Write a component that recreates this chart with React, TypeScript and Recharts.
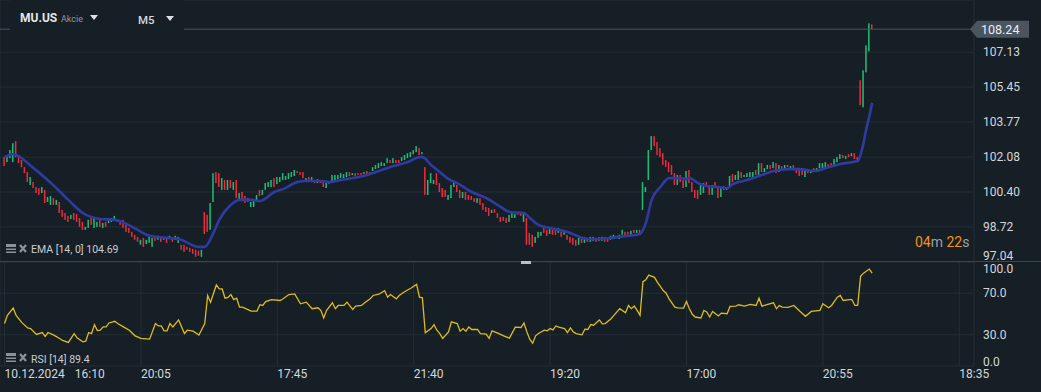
import {
  ComposedChart,
  Bar,
  Line,
  XAxis,
  YAxis,
  CartesianGrid,
  ReferenceLine,
} from "recharts";

const BG = "#171f26";
const GRID = "#242d35";
const SEPARATOR = "#3a454f";
const TEXT = "#d3d7db";
const GREEN = "#1fbe78";
const RED = "#ee2a3c";
const EMA_COLOR = "#2e3ba2";
const RSI_COLOR = "#dcbc22";

// M5 bars, one slot per candle; ticks every 47 candles
const timeTicks = [0, 47, 94, 141, 188, 235, 282, 329];
const timeLabels = ["10.12.2024|16:10", "20:05", "17:45", "21:40", "19:20", "17:00", "20:55", "18:35"];
const priceTicks = [97.04, 98.72, 100.4, 102.08, 103.77, 105.45, 107.13];
const rsiTicks = [0, 30, 70, 100];
const lastPrice = 108.24;
const emaLast = 104.69;
const rsiLast = 89.4;

// [open, close]
const candles: [number, number][] = [
  [102.08, 101.65], [101.84, 102.18], [102.03, 102.42], [101.84, 102.75], [102.85, 102.08],
  [102.18, 101.79], [101.94, 101.6], [101.6, 101.31], [101.36, 100.88], [100.74, 101.12],
  [100.88, 100.59], [100.64, 100.35], [100.59, 100.26], [100.35, 100.64], [100.5, 99.87],
  [99.92, 100.16], [99.78, 100.21], [100.11, 99.78], [99.78, 100.02], [99.92, 99.39],
  [99.54, 99.2], [99.39, 99.06], [99.25, 98.96], [99.1, 99.3], [99.39, 99.06],
  [99.34, 98.96], [99.15, 98.72], [98.96, 98.58], [98.58, 98.72], [98.67, 99.06],
  [99.15, 98.82], [98.67, 99.15], [98.72, 98.96], [99.06, 98.72], [98.67, 98.91],
  [98.96, 98.72], [98.91, 99.06], [98.96, 99.15], [99.06, 99.25], [99.1, 98.96],
  [99.06, 98.82], [99.06, 98.67], [98.82, 98.48], [98.67, 98.43], [98.48, 98.24],
  [98.34, 98.1], [98.24, 98.0],
  // 20:05
  [97.86, 98.1], [98.19, 97.76], [97.9, 98.1], [97.95, 98.24], [97.76, 98.19],
  [98.24, 98.05], [98.1, 98.29], [98.24, 98.0], [98.1, 98.24], [98.24, 97.95],
  [98.14, 98.29], [98.19, 98.0], [98.1, 98.29], [97.95, 98.24], [97.86, 97.62],
  [97.86, 97.52], [97.76, 97.62], [97.71, 97.52], [97.66, 97.42], [97.62, 97.28],
  [97.57, 97.33], [97.28, 97.62], [99.44, 98.38], [99.3, 98.48], [98.58, 99.87],
  [99.92, 101.31], [101.36, 100.83], [101.31, 100.64], [100.5, 101.07], [100.98, 100.5],
  [100.5, 100.98], [100.98, 100.59], [100.5, 100.88], [100.98, 100.11], [100.02, 100.35],
  [100.4, 99.97], [100.21, 99.87], [100.11, 99.92], [99.68, 99.92], [99.68, 100.02],
  [99.97, 100.26], [100.5, 100.21], [100.26, 100.5], [100.5, 100.83], [100.64, 100.88],
  [100.64, 100.98], [101.07, 100.64],
  // 17:45
  [100.78, 101.12], [100.88, 101.12], [100.98, 101.31], [100.98, 101.17], [101.02, 101.31],
  [101.12, 101.36], [101.17, 101.46], [101.41, 101.31], [101.36, 101.22], [101.36, 101.07],
  [100.93, 101.07], [101.12, 100.98], [100.98, 101.12], [100.98, 100.83], [100.83, 101.02],
  [100.98, 100.83], [100.93, 100.64], [100.59, 100.83], [100.88, 100.78], [100.83, 101.22],
  [100.93, 101.22], [101.02, 101.22], [101.07, 101.31], [101.07, 101.26], [101.12, 101.36],
  [101.36, 101.17], [101.22, 101.31], [101.31, 101.17], [101.31, 101.22], [101.31, 101.22],
  [101.26, 101.36], [101.41, 101.26], [101.36, 101.22], [101.41, 101.6], [101.5, 101.7],
  [101.55, 101.79], [101.65, 101.84], [101.65, 101.79], [101.79, 102.03], [101.94, 101.79],
  [101.79, 102.03], [101.94, 101.79], [101.94, 101.79], [101.89, 102.08], [101.94, 102.18],
  [102.03, 102.27], [102.08, 102.32], [102.22, 102.42],
  // 21:40
  [102.32, 102.61], [102.51, 102.18], [102.22, 102.32], [101.6, 100.26], [100.26, 100.98],
  [100.83, 101.31], [100.78, 100.98], [101.31, 100.74], [100.83, 100.4], [100.59, 100.16],
  [100.5, 100.16], [100.02, 100.26], [100.11, 100.74], [100.64, 100.88], [100.74, 100.4],
  [100.5, 100.11], [100.11, 100.4], [100.4, 100.02], [100.26, 100.02], [100.21, 100.02],
  [100.11, 99.92], [99.87, 100.11], [100.11, 99.78], [99.87, 99.54], [99.68, 99.44],
  [99.63, 99.25], [99.39, 99.54], [99.58, 99.39], [99.39, 99.15], [99.2, 98.96],
  [99.2, 99.01], [99.15, 98.91], [98.96, 99.3], [99.15, 99.39], [99.15, 99.34],
  [99.39, 99.3], [99.39, 99.25], [98.96, 99.39], [99.15, 97.86], [98.43, 97.86],
  [98.34, 97.76], [97.95, 98.24], [98.19, 98.48], [98.29, 98.48], [98.67, 98.43],
  [98.58, 98.29], [98.38, 98.62],
  // 19:20
  [98.58, 98.34], [98.58, 98.34], [98.43, 98.67], [98.48, 98.24], [98.34, 98.48],
  [98.34, 98.1], [98.24, 97.95], [98.19, 97.86], [98.1, 97.81], [97.86, 98.19],
  [98.19, 97.95], [97.95, 98.24], [98.19, 98.0], [98.0, 98.24], [98.05, 98.24],
  [98.19, 98.0], [98.05, 98.22], [98.05, 98.24], [98.24, 98.0], [98.19, 98.0],
  [98.1, 98.29], [98.14, 98.34], [98.19, 98.29], [98.14, 98.34], [98.34, 98.58],
  [98.48, 98.24], [98.48, 98.34], [98.34, 98.53], [98.58, 98.43], [98.43, 98.58],
  [98.58, 98.34], [99.54, 100.88], [100.4, 100.64], [100.98, 102.42], [102.42, 103.09],
  [103.09, 102.61], [102.8, 102.18], [102.51, 102.08], [102.27, 101.7], [101.94, 101.6],
  [101.84, 101.36], [101.7, 101.22], [101.31, 100.74], [100.74, 101.22], [101.22, 100.88],
  [100.98, 100.59], [100.64, 101.41], [101.46, 100.83],
  // 17:00
  [100.88, 100.4], [100.5, 100.11], [100.5, 100.06], [100.26, 100.83], [100.35, 100.83],
  [100.88, 100.74], [100.64, 100.26], [100.26, 100.74], [100.88, 100.59], [100.59, 100.11],
  [100.16, 100.64], [100.69, 100.5], [100.5, 100.59], [100.64, 101.17], [101.26, 100.88],
  [100.98, 101.22], [100.98, 101.41], [101.36, 101.07], [101.12, 101.22], [101.12, 101.31],
  [101.12, 101.36], [101.12, 101.36], [101.46, 101.22], [101.22, 101.79], [101.79, 101.36],
  [101.36, 101.55], [101.5, 101.7], [101.7, 101.5], [101.55, 101.84], [101.79, 101.31],
  [101.36, 101.7], [101.65, 101.5], [101.55, 101.7], [101.7, 101.6], [101.5, 101.65],
  [101.7, 101.46], [101.5, 101.31], [101.46, 101.17], [101.46, 101.22], [101.12, 101.46],
  [101.41, 101.31], [101.31, 101.46], [101.55, 101.36], [101.46, 101.55], [101.55, 101.79],
  // 20:55
  [101.55, 101.79], [101.6, 101.84], [101.74, 101.6], [101.79, 101.6], [101.65, 101.99],
  [101.84, 102.08], [101.99, 102.22], [102.18, 102.03], [101.99, 102.13], [102.22, 102.08],
  [102.13, 102.27], [102.27, 101.99], [102.08, 101.94], [105.78, 104.58], [104.48, 106.26],
  [106.16, 107.46], [107.17, 108.52], [108.47, 108.24],
];

// [candle index, EMA(14) value]
const emaPoints: [number, number][] = [
  [0, 102.08], [3, 102.22], [10, 101.55], [16, 100.83], [22, 100.02], [27, 99.39], [33, 99.1],
  [38, 99.06], [44, 98.72], [50, 98.29], [56, 98.19], [60, 98.14], [67, 97.76], [69, 97.76],
  [72, 98.43], [74, 99.06], [78, 99.78], [81, 100.02], [85, 100.02], [88, 99.97], [93, 100.4],
  [96, 100.54], [101, 100.88], [104, 100.93], [109, 100.93], [112, 100.88], [116, 100.98],
  [122, 101.12], [125, 101.22], [129, 101.41], [134, 101.65], [139, 101.84], [143, 102.08],
  [144, 102.08], [147, 101.7], [150, 101.36], [153, 101.02], [156, 100.83], [161, 100.4],
  [166, 100.11], [171, 99.68], [174, 99.44], [179, 99.39], [181, 99.15], [184, 98.82],
  [188, 98.67], [194, 98.48], [201, 98.14], [205, 98.14], [212, 98.24], [219, 98.38],
  [221, 98.91], [223, 100.02], [226, 100.64], [229, 101.07], [233, 101.07], [235, 101.02],
  [236, 101.07], [239, 100.83], [242, 100.69], [246, 100.64], [249, 100.59], [251, 100.78],
  [256, 100.98], [260, 101.17], [265, 101.41], [270, 101.5], [274, 101.5], [279, 101.41],
  [283, 101.55], [288, 101.75], [294, 101.89], [295, 102.2], [296, 102.75], [297, 103.45],
  [298, 104.05], [299, 104.69],
];

// [candle index, RSI(14) value]
const rsiPoints: [number, number][] = [
  [0, 40.8], [1, 48.7], [3, 55.7], [4, 48.7], [6, 41.7], [8, 36.6], [9, 36.0], [11, 30.3],
  [13, 32.2], [14, 28.4], [15, 32.2], [17, 29.7], [19, 26.5], [20, 24.6], [22, 22.7], [24, 31.2],
  [25, 27.1], [27, 23.3], [28, 23.9], [29, 32.2], [30, 31.2], [31, 39.8], [32, 34.1], [33, 34.4],
  [34, 37.6], [35, 37.6], [36, 41.4], [38, 43.0], [39, 40.8], [41, 37.6], [43, 34.4], [45, 29.0],
  [47, 26.5], [50, 25.8], [52, 40.8], [53, 38.5], [54, 38.5], [55, 33.8], [56, 33.8], [57, 40.8],
  [58, 37.6], [60, 44.3], [62, 31.2], [63, 34.4], [65, 33.5], [67, 29.7], [69, 40.8], [70, 67.8],
  [71, 61.4], [73, 77.9], [74, 74.1], [75, 74.1], [76, 65.2], [77, 65.9], [78, 68.7], [79, 63.9],
  [80, 65.2], [81, 56.6], [82, 56.6], [85, 52.8], [87, 52.8], [88, 58.9], [89, 58.2], [90, 62.0],
  [92, 63.9], [95, 63.0], [96, 64.6], [98, 68.7], [100, 69.3], [102, 59.8], [104, 61.4], [106, 55.1],
  [108, 56.0], [109, 53.5], [110, 46.2], [111, 53.5], [113, 60.8], [114, 55.1], [115, 58.2],
  [117, 58.2], [118, 61.4], [120, 54.4], [121, 57.6], [123, 58.2], [124, 60.5], [126, 64.6],
  [127, 67.8], [129, 69.0], [131, 72.5], [132, 66.2], [133, 68.7], [135, 64.6], [136, 67.8],
  [138, 71.6], [140, 74.7], [142, 78.5], [143, 66.2], [144, 65.5], [145, 31.9], [147, 36.0],
  [148, 39.8], [149, 34.4], [150, 31.2], [151, 26.5], [153, 32.8], [154, 42.4], [156, 40.8],
  [157, 33.5], [158, 36.0], [159, 33.5], [160, 37.6], [161, 35.1], [163, 35.1], [164, 31.2],
  [166, 30.6], [167, 26.5], [168, 33.8], [170, 31.6], [172, 29.0], [174, 26.8], [176, 37.3],
  [178, 37.0], [179, 41.4], [180, 32.8], [181, 25.8], [182, 22.0], [183, 29.0], [184, 31.2],
  [186, 34.4], [187, 33.8], [188, 36.0], [189, 34.7], [190, 38.5], [191, 37.3], [193, 36.0],
  [194, 32.2], [195, 36.6], [196, 32.8], [197, 31.2], [199, 30.0], [200, 35.4], [201, 35.1],
  [202, 39.8], [203, 39.2], [205, 44.3], [206, 40.5], [207, 40.8], [209, 45.5], [210, 48.7],
  [212, 55.1], [214, 51.2], [215, 58.2], [216, 55.1], [217, 57.6], [218, 53.5], [219, 48.7],
  [220, 81.1], [221, 83.0], [222, 87.4], [224, 85.2], [225, 80.5], [227, 72.5], [228, 70.0],
  [229, 64.6], [231, 56.6], [232, 55.9], [234, 55.7], [235, 62.0], [236, 55.1], [237, 49.7],
  [238, 47.1], [240, 46.2], [241, 53.5], [242, 51.9], [243, 47.1], [244, 52.5], [246, 48.1],
  [247, 50.9], [249, 50.3], [250, 57.3], [252, 57.6], [253, 58.9], [255, 57.6], [257, 59.2],
  [259, 58.2], [260, 65.2], [261, 57.6], [263, 59.2], [265, 60.8], [266, 55.1], [267, 58.2],
  [268, 56.6], [270, 56.3], [272, 58.2], [274, 52.8], [276, 47.8], [278, 52.5], [281, 53.5],
  [282, 59.8], [284, 56.0], [285, 58.2], [287, 66.2], [288, 67.8], [289, 63.0], [291, 63.9],
  [292, 63.9], [293, 58.2], [294, 58.2], [295, 86.2], [296, 89.3], [298, 93.2], [299, 89.4],
];

const candleData = candles.map(([o, c], i) => ({
  i,
  range: [Math.min(o, c), Math.max(o, c)],
  up: c >= o,
}));
const emaData = emaPoints.map(([i, v]) => ({ i, ema: v }));
const rsiData = rsiPoints.map(([i, v]) => ({ i, rsi: v }));

const X_DOMAIN: [number, number] = [-1.551, 334.08];
const PRICE_DOMAIN: [number, number] = [97.03, 109.644];

const CandleShape = (props: any) => {
  const { x, y, width, height, payload } = props;
  if (x == null || y == null) return null;
  const cx = x + width / 2;
  const top = height < 0 ? y + height : y;
  const h = Math.max(Math.abs(height), 1.5);
  return <rect x={cx - 0.75} y={top} width={1.5} height={h} fill={payload.up ? GREEN : RED} />;
};

const PriceTick = (props: any) => {
  const { x, y, payload } = props;
  const dy = payload.value === priceTicks[0] ? -5.5 : 0;
  return (
    <text x={x + 7} y={y + dy} fill={TEXT} fontSize={12} dominantBaseline="central" fontFamily="Roboto">
      {payload.value.toFixed(2)}
    </text>
  );
};

const RsiTick = (props: any) => {
  const { x, y, payload } = props;
  const dy = payload.value === 100 ? 7 : payload.value === 0 ? -4.5 : 0;
  return (
    <text x={x + 7} y={y + dy} fill={TEXT} fontSize={12} dominantBaseline="central" fontFamily="Roboto">
      {payload.value.toFixed(1)}
    </text>
  );
};

const TimeTick = (props: any) => {
  const { x, y, payload } = props;
  const label = timeLabels[timeTicks.indexOf(payload.value)] ?? "";
  const [a, b] = label.split("|");
  return (
    <text x={x} y={y + 6} fill={TEXT} fontSize={12} dominantBaseline="central" fontFamily="Roboto">
      <tspan>{a}</tspan>
      {b && <tspan dx={10}>{b}</tspan>}
    </text>
  );
};

const PriceTag = (props: any) => {
  const vb = props.viewBox;
  if (!vb) return null;
  const r = vb.x + vb.width;
  const y = vb.y;
  return (
    <g>
      <polygon
        points={`${r - 4},${y} ${r + 3},${y - 8.5} ${r + 55},${y - 8.5} ${r + 55},${y + 8.5} ${r + 3},${y + 8.5}`}
        fill="#4a5560"
      />
      <text x={r + 7} y={y + 0.5} fill="#eceef0" fontSize={12.5} dominantBaseline="central" fontFamily="Roboto">
        {lastPrice.toFixed(2)}
      </text>
    </g>
  );
};

const Triangle = ({ left, top }: { left: number; top: number }) => (
  <svg style={{ position: "absolute", left, top }} width={8} height={5}>
    <polygon points="0,0 8,0 4,5" fill="#dde1e4" />
  </svg>
);

const LegendIcons = ({ top }: { top: number }) => (
  <svg style={{ position: "absolute", left: 5, top }} width={24} height={11}>
    <rect x={1} y={1} width={10} height={3} fill="#8a939b" />
    <rect x={1} y={5.5} width={10} height={1.5} fill="#8a939b" />
    <rect x={1} y={8.5} width={10} height={1.5} fill="#8a939b" />
    <path d="M15 2 L21 9 M21 2 L15 9" stroke="#8a939b" strokeWidth={2.2} />
  </svg>
);

export default function App() {
  return (
    <div
      style={{
        position: "absolute",
        left: 0,
        top: 0,
        width: 1041,
        height: 392,
        background: BG,
        fontFamily: "Roboto, 'Noto Sans', sans-serif",
        overflow: "hidden",
      }}
    >
      <div style={{ position: "absolute", left: 0, top: 0 }}>
        <ComposedChart width={1041} height={262} data={candleData} margin={{ top: 0, right: 0, bottom: 0, left: 0 }}>
          <CartesianGrid stroke={GRID} />
          <XAxis
            dataKey="i"
            type="number"
            domain={X_DOMAIN}
            ticks={timeTicks}
            allowDataOverflow
            height={0}
            tick={false}
            axisLine={false}
            tickLine={false}
          />
          <YAxis
            orientation="right"
            width={67}
            domain={PRICE_DOMAIN}
            ticks={priceTicks}
            interval={0}
            allowDataOverflow
            axisLine={false}
            tickLine={false}
            tickSize={0}
            tick={<PriceTick />}
          />
          <ReferenceLine y={lastPrice} stroke="#4b5661" label={(p: any) => <PriceTag {...p} />} />
          <Bar dataKey="range" barSize={2} shape={CandleShape} isAnimationActive={false} />
          <Line
            data={emaData}
            dataKey="ema"
            type="monotone"
            stroke={EMA_COLOR}
            strokeWidth={2.6}
            dot={false}
            activeDot={false}
            isAnimationActive={false}
          />
        </ComposedChart>
      </div>

      <div style={{ position: "absolute", left: 0, top: 262 }}>
        <ComposedChart width={1041} height={130} data={rsiData} margin={{ top: 0, right: 0, bottom: 0, left: 0 }}>
          <CartesianGrid stroke={GRID} />
          <XAxis
            dataKey="i"
            type="number"
            domain={X_DOMAIN}
            ticks={timeTicks}
            interval={0}
            allowDataOverflow
            height={26}
            axisLine={false}
            tickLine={false}
            tickSize={0}
            tick={<TimeTick />}
          />
          <YAxis
            orientation="right"
            width={67}
            domain={[0, 100]}
            ticks={rsiTicks}
            interval={0}
            axisLine={false}
            tickLine={false}
            tickSize={0}
            tick={<RsiTick />}
          />
          <Line
            dataKey="rsi"
            type="linear"
            stroke={RSI_COLOR}
            strokeWidth={1.3}
            dot={false}
            activeDot={false}
            isAnimationActive={false}
          />
        </ComposedChart>
      </div>

      {/* panel separator and resize handle */}
      <div style={{ position: "absolute", left: 0, top: 261, width: 1041, height: 1, background: SEPARATOR }} />
      <div style={{ position: "absolute", left: 521, top: 261, width: 10, height: 3, background: "#b9c0c6" }} />

      {/* header */}
      <div style={{ position: "absolute", left: 10, top: 0, width: 174, height: 31, background: BG }}>
        <span style={{ position: "absolute", left: 10, top: 11, fontSize: 12, fontWeight: 700, color: "#e4e7ea", lineHeight: "15px" }}>
          MU.US
        </span>
        <span style={{ position: "absolute", left: 51, top: 14, fontSize: 9, color: "#8f989f", lineHeight: "11px" }}>
          Akcie
        </span>
        <Triangle left={80} top={15} />
        <span style={{ position: "absolute", left: 128, top: 13, fontSize: 11.5, fontWeight: 500, color: "#d3d7db", lineHeight: "15px" }}>
          M5
        </span>
        <Triangle left={156} top={16} />
      </div>

      {/* indicator legends */}
      <LegendIcons top={243} />
      <div style={{ position: "absolute", left: 31, top: 243, fontSize: 10.5, color: "#c9cdd1", lineHeight: "13px", whiteSpace: "pre" }}>
        {`EMA [14, 0] ${emaLast.toFixed(2)}`}
      </div>
      <LegendIcons top={352} />
      <div style={{ position: "absolute", left: 31, top: 353, fontSize: 10.5, color: "#c9cdd1", lineHeight: "13px", whiteSpace: "pre" }}>
        {`RSI [14] ${rsiLast.toFixed(1)}`}
      </div>

      {/* bar countdown */}
      <div style={{ position: "absolute", left: 915, top: 233, fontSize: 14, lineHeight: "18px", whiteSpace: "pre" }}>
        <span style={{ color: "#f5920f" }}>04</span>
        <span style={{ color: "#9aa1a7" }}>m </span>
        <span style={{ color: "#f5920f" }}>22</span>
        <span style={{ color: "#9aa1a7" }}>s</span>
      </div>
    </div>
  );
}
